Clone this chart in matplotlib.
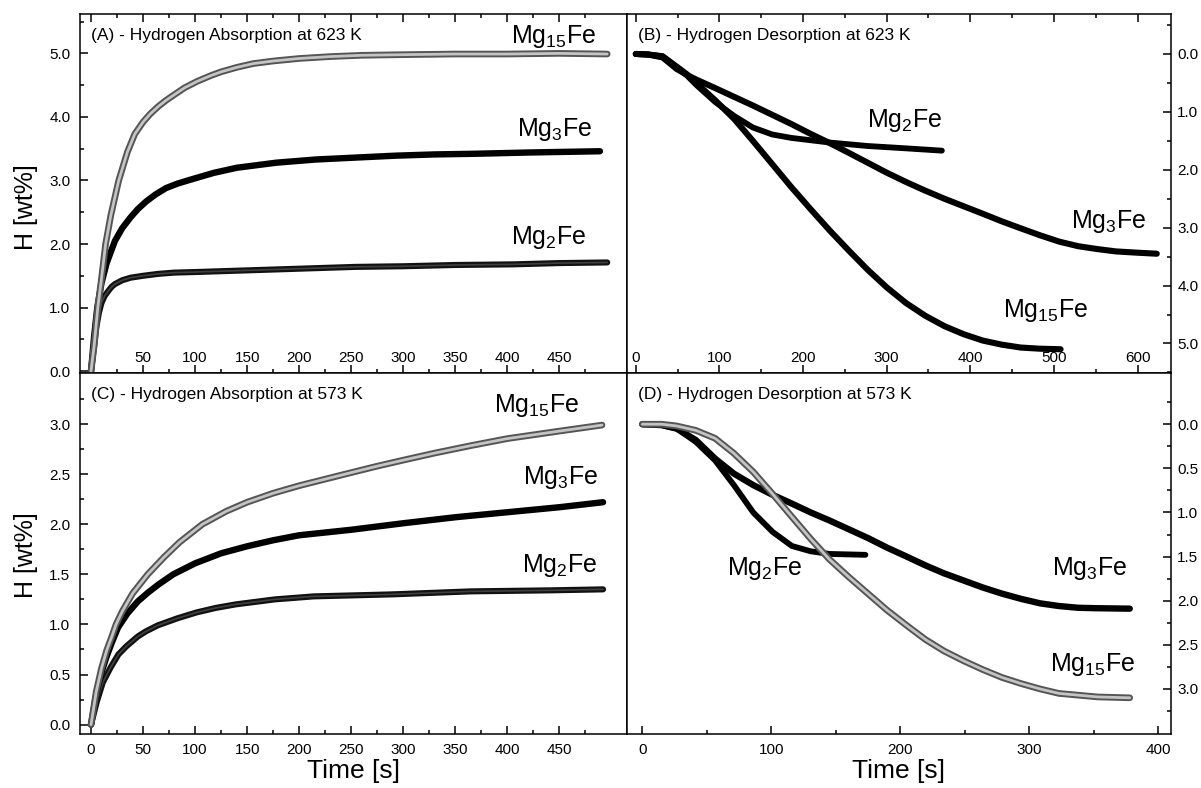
import matplotlib
matplotlib.use('Agg')
import matplotlib.pyplot as plt
import matplotlib.patheffects as pe
from matplotlib.ticker import FixedLocator, FuncFormatter
import numpy as np

plt.rcParams['font.family'] = ['Liberation Sans', 'DejaVu Sans']
plt.rcParams['mathtext.fontset'] = 'custom'
plt.rcParams['mathtext.rm'] = 'Liberation Sans'
plt.rcParams['mathtext.it'] = 'Liberation Sans:italic'
plt.rcParams['mathtext.bf'] = 'Liberation Sans:bold'

# ---------------- data ----------------
labels = ['Mg$_{\\mathrm{15}}$Fe', 'Mg$_{\\mathrm{3}}$Fe', 'Mg$_{\\mathrm{2}}$Fe']
titles = ['(A) - Hydrogen Absorption at 623 K', '(B) - Hydrogen Desorption at 623 K',
          '(C) - Hydrogen Absorption at 573 K', '(D) - Hydrogen Desorption at 573 K']

# (A) absorption 623 K
A_t_mg15 = [0, 3, 6.5, 10, 14, 19, 26.6, 35, 42, 50, 57, 65, 72, 80, 90, 102, 115, 125, 140, 156,
            175, 200, 230, 260, 300, 350, 400, 450, 496]
A_h_mg15 = [0, 0.40, 1.0, 1.45, 2.0, 2.45, 3.0, 3.45, 3.73, 3.92, 4.05, 4.17, 4.26, 4.35, 4.46, 4.56,
            4.65, 4.71, 4.78, 4.84, 4.88, 4.92, 4.95, 4.97, 4.98, 4.99, 4.99, 5.0, 4.99]
A_t_mg3 = [0, 3, 6, 10, 15, 23, 30, 38, 45, 53, 62, 72, 83, 95, 118, 140, 178, 216, 254, 292, 330,
           368, 420, 489]
A_h_mg3 = [0, 0.55, 1.0, 1.38, 1.70, 2.05, 2.25, 2.42, 2.55, 2.67, 2.78, 2.88, 2.95, 3.01, 3.12,
           3.20, 3.28, 3.33, 3.36, 3.39, 3.41, 3.42, 3.44, 3.46]
A_t_mg2 = [0, 3, 5, 7.6, 10, 13, 17, 20, 23, 30, 38, 50, 64.5, 80, 102, 140, 178, 216, 254, 300, 350,
           406, 450, 496]
A_h_mg2 = [0, 0.40, 0.68, 0.92, 1.07, 1.18, 1.27, 1.33, 1.37, 1.43, 1.47, 1.50, 1.53, 1.55, 1.56, 1.58,
           1.60, 1.62, 1.64, 1.65, 1.67, 1.68, 1.70, 1.71]

# (B) desorption 623 K
B_t_mg15 = [0, 15, 32, 49, 61, 72, 95, 117.5, 140, 163, 186, 209, 232, 255, 277.5, 300, 323, 346, 369,
            392, 415, 437.5, 460, 483, 508]
B_h_mg15 = [0, 0.01, 0.04, 0.22, 0.35, 0.50, 0.80, 1.12, 1.50, 1.90, 2.30, 2.68, 3.05, 3.40, 3.73,
            4.03, 4.30, 4.52, 4.70, 4.84, 4.95, 5.02, 5.07, 5.09, 5.10]
B_t_mg3 = [0, 15, 32, 49, 61, 72, 95, 117.5, 140, 163, 186, 209, 232, 255, 277.5, 300, 323, 346, 369,
           392, 415, 437.5, 460, 483, 506, 529, 552, 574, 597, 623]
B_h_mg3 = [0, 0.01, 0.06, 0.26, 0.36, 0.44, 0.59, 0.74, 0.89, 1.05, 1.21, 1.38, 1.54, 1.71, 1.88,
           2.05, 2.21, 2.36, 2.50, 2.63, 2.76, 2.89, 3.01, 3.13, 3.24, 3.32, 3.37, 3.41, 3.43, 3.45]
B_t_mg2 = [0, 15, 32, 49, 61, 72, 95, 117.5, 140, 163, 186, 209, 232, 277.5, 323, 366]
B_h_mg2 = [0, 0.01, 0.04, 0.23, 0.37, 0.53, 0.83, 1.07, 1.27, 1.39, 1.45, 1.49, 1.53, 1.59, 1.63, 1.67]

# (C) absorption 573 K
C_t_mg15 = [0, 5, 10, 15, 20, 24, 30, 40, 54.5, 70, 85, 107, 130, 150, 175, 200, 244, 275, 300, 330,
            365, 400, 450, 491]
C_h_mg15 = [0, 0.33, 0.56, 0.74, 0.88, 1.0, 1.13, 1.31, 1.50, 1.67, 1.82, 2.0, 2.13, 2.22, 2.31,
            2.385, 2.50, 2.58, 2.64, 2.71, 2.785, 2.855, 2.93, 2.99]
C_t_mg3 = [0, 5, 10, 15, 20, 26, 35, 45, 55, 65, 79, 100, 125, 150, 175, 200, 250, 300, 350, 400,
           450, 492]
C_h_mg3 = [0, 0.30, 0.52, 0.68, 0.82, 0.97, 1.11, 1.23, 1.32, 1.40, 1.50, 1.61, 1.71, 1.78, 1.84,
           1.89, 1.945, 2.01, 2.07, 2.12, 2.17, 2.22]
C_t_mg2 = [0, 5.6, 11.3, 18.8, 26.3, 33.8, 45, 52.6, 64, 82.7, 101.5, 120, 139, 176.7, 214, 252,
           289.5, 365, 440, 492]
C_h_mg2 = [0, 0.23, 0.42, 0.57, 0.70, 0.78, 0.88, 0.93, 0.99, 1.06, 1.12, 1.165, 1.20, 1.25, 1.28,
           1.29, 1.30, 1.33, 1.34, 1.35]

# (D) desorption 573 K
D_t_mg15 = [0, 15, 26.7, 41.5, 56.4, 71, 86, 101, 116, 130.6, 145, 160, 175, 190, 205, 219.6, 234,
            249, 264, 279, 294, 308.6, 323, 338, 353, 378]
D_h_mg15 = [0, 0.0, 0.02, 0.07, 0.16, 0.33, 0.54, 0.79, 1.05, 1.30, 1.53, 1.73, 1.92, 2.11, 2.28,
            2.44, 2.57, 2.68, 2.78, 2.87, 2.94, 3.00, 3.05, 3.07, 3.09, 3.10]
D_t_mg3 = [0, 15, 26.7, 41.5, 56.4, 71, 86, 101, 116, 130.6, 145, 160, 175, 190, 205, 219.6, 234,
           249, 264, 279, 294, 308.6, 323, 338, 353, 378]
D_h_mg3 = [0, 0.01, 0.05, 0.18, 0.39, 0.56, 0.69, 0.80, 0.90, 1.00, 1.09, 1.19, 1.29, 1.40, 1.50,
           1.60, 1.69, 1.77, 1.85, 1.92, 1.98, 2.03, 2.06, 2.08, 2.085, 2.09]
D_t_mg2 = [0, 15, 26.7, 41.5, 56.4, 71, 86, 101, 116, 130.6, 145, 173]
D_h_mg2 = [0, 0.01, 0.05, 0.20, 0.41, 0.69, 1.00, 1.22, 1.38, 1.44, 1.47, 1.48]

# ---------------- figure ----------------
W, H = 1201, 788
fig = plt.figure(figsize=(W / 100, H / 100), dpi=100)
L, M, R = 80 / W, 627 / W, 1171 / W
T, MY, BOT = 1 - 14 / H, 1 - 373 / H, 1 - 734 / H
axA = fig.add_axes([L, MY, M - L, T - MY])
axB = fig.add_axes([M, MY, R - M, T - MY])
axC = fig.add_axes([L, BOT, M - L, MY - BOT])
axD = fig.add_axes([M, BOT, R - M, MY - BOT])


def hollow(ax, t, h):
    ax.plot(t, h, color='#c4c4c4', lw=2.0, solid_capstyle='round', solid_joinstyle='round', zorder=5,
            path_effects=[pe.Stroke(linewidth=4.8, foreground='#555555', capstyle='round', joinstyle='round'),
                          pe.Normal()])


def solid(ax, t, h, lw=4.6, color='black', z=4):
    ax.plot(t, h, color=color, lw=lw, solid_capstyle='round', solid_joinstyle='round', zorder=z)


def dark(ax, t, h):
    ax.plot(t, h, color='#404040', lw=1.2, solid_capstyle='round', solid_joinstyle='round', zorder=4,
            path_effects=[pe.Stroke(linewidth=4.4, foreground='#111111', capstyle='round', joinstyle='round'),
                          pe.Normal()])


# A
dark(axA, A_t_mg2, A_h_mg2)
solid(axA, A_t_mg3, A_h_mg3)
hollow(axA, A_t_mg15, A_h_mg15)
# B
solid(axB, B_t_mg2, B_h_mg2, lw=4.2)
solid(axB, B_t_mg3, B_h_mg3, lw=4.4)
solid(axB, B_t_mg15, B_h_mg15, lw=4.4)
# C
dark(axC, C_t_mg2, C_h_mg2)
solid(axC, C_t_mg3, C_h_mg3)
hollow(axC, C_t_mg15, C_h_mg15)
# D
solid(axD, D_t_mg2, D_h_mg2, lw=4.2)
solid(axD, D_t_mg3, D_h_mg3, lw=4.6)
hollow(axD, D_t_mg15, D_h_mg15)

xfmt0 = FuncFormatter(lambda v, p: '' if abs(v) < 1e-9 else f'{v:.0f}')
xfmt = FuncFormatter(lambda v, p: f'{v:.0f}')
yfmt = FuncFormatter(lambda v, p: f'{v:.1f}')


def setup(ax, xlim, ylim, xmaj, xmin, ymaj, ymin, side, top_panel, xf):
    ax.set_xlim(*xlim)
    ax.set_ylim(*ylim)
    ax.xaxis.set_major_locator(FixedLocator(xmaj))
    ax.xaxis.set_minor_locator(FixedLocator(xmin))
    ax.yaxis.set_major_locator(FixedLocator(ymaj))
    ax.yaxis.set_minor_locator(FixedLocator(ymin))
    ax.xaxis.set_major_formatter(xf)
    ax.yaxis.set_major_formatter(yfmt)
    for s in ax.spines.values():
        s.set_linewidth(1.1)
    ax.tick_params(which='both', direction='in', width=1.1, labelsize=11, colors='black')
    ax.tick_params(which='major', length=5.5)
    ax.tick_params(which='minor', length=3.0)
    if side == 'left':
        ax.tick_params(axis='y', which='both', left=True, right=False,
                       labelleft=True, labelright=False, pad=7)
    else:
        ax.tick_params(axis='y', which='both', left=False, right=True,
                       labelleft=False, labelright=True, pad=4.5)
    if top_panel:
        ax.tick_params(axis='x', which='both', top=True, bottom=True, labelbottom=True, pad=-15.5)
    else:
        ax.tick_params(axis='x', which='both', top=False, bottom=True, labelbottom=True, pad=6.5)


setup(axA, (-10.6, 515), (-0.03, 5.62), np.arange(0, 451, 50), np.arange(25, 480, 50),
      np.arange(0, 5.01, 1.0), np.arange(0.5, 5.6, 1.0), 'left', True, xfmt0)
setup(axB, (-10.5, 640), (5.51, -0.69), np.arange(0, 601, 100), np.arange(50, 640, 100),
      np.arange(0, 5.01, 1.0), np.arange(-0.5, 5.6, 1.0), 'right', True, xfmt)
setup(axC, (-10.6, 515), (-0.094, 3.51), np.arange(0, 451, 50), np.arange(25, 480, 50),
      np.arange(0, 3.01, 0.5), np.arange(0.25, 3.4, 0.5), 'left', False, xfmt)
setup(axD, (-11.9, 410), (3.51, -0.58), np.arange(0, 401, 100), np.arange(50, 410, 100),
      np.arange(0, 3.01, 0.5), np.arange(-0.25, 3.4, 0.5), 'right', False, xfmt)

# titles
for ax, ttl in zip([axA, axB, axC, axD], titles):
    ax.text(0.02, 0.94, ttl, transform=ax.transAxes, fontsize=12.5, ha='left', va='center')

# curve labels (data coordinates)
ann = 18
axA.text(444, 5.27, labels[0], fontsize=ann, ha='center', va='center')
axA.text(446, 3.81, labels[1], fontsize=ann, ha='center', va='center')
axA.text(440, 2.11, labels[2], fontsize=ann, ha='center', va='center')
axB.text(321, 1.15, labels[2], fontsize=ann, ha='center', va='center')
axB.text(566, 2.90, labels[1], fontsize=ann, ha='center', va='center')
axB.text(490, 4.43, labels[0], fontsize=ann, ha='center', va='center')
axC.text(428, 3.19, labels[0], fontsize=ann, ha='center', va='center')
axC.text(451, 2.47, labels[1], fontsize=ann, ha='center', va='center')
axC.text(450, 1.59, labels[2], fontsize=ann, ha='center', va='center')
axD.text(95, 1.63, labels[2], fontsize=ann, ha='center', va='center')
axD.text(347, 1.63, labels[1], fontsize=ann, ha='center', va='center')
axD.text(349, 2.72, labels[0], fontsize=ann, ha='center', va='center')

# axis labels
for ax, yc in [(axA, 0.462), (axC, 0.496)]:
    ax.set_ylabel('H [wt%]', fontsize=18)
    ax.yaxis.label.set_verticalalignment('center')
    ax.yaxis.set_label_coords((26 - 80) / (627 - 80), yc)
for ax in [axC, axD]:
    ax.set_xlabel('Time [s]', fontsize=19)
    ax.xaxis.set_label_coords(0.5, -0.068)

fig.savefig('out.png', dpi=100)
